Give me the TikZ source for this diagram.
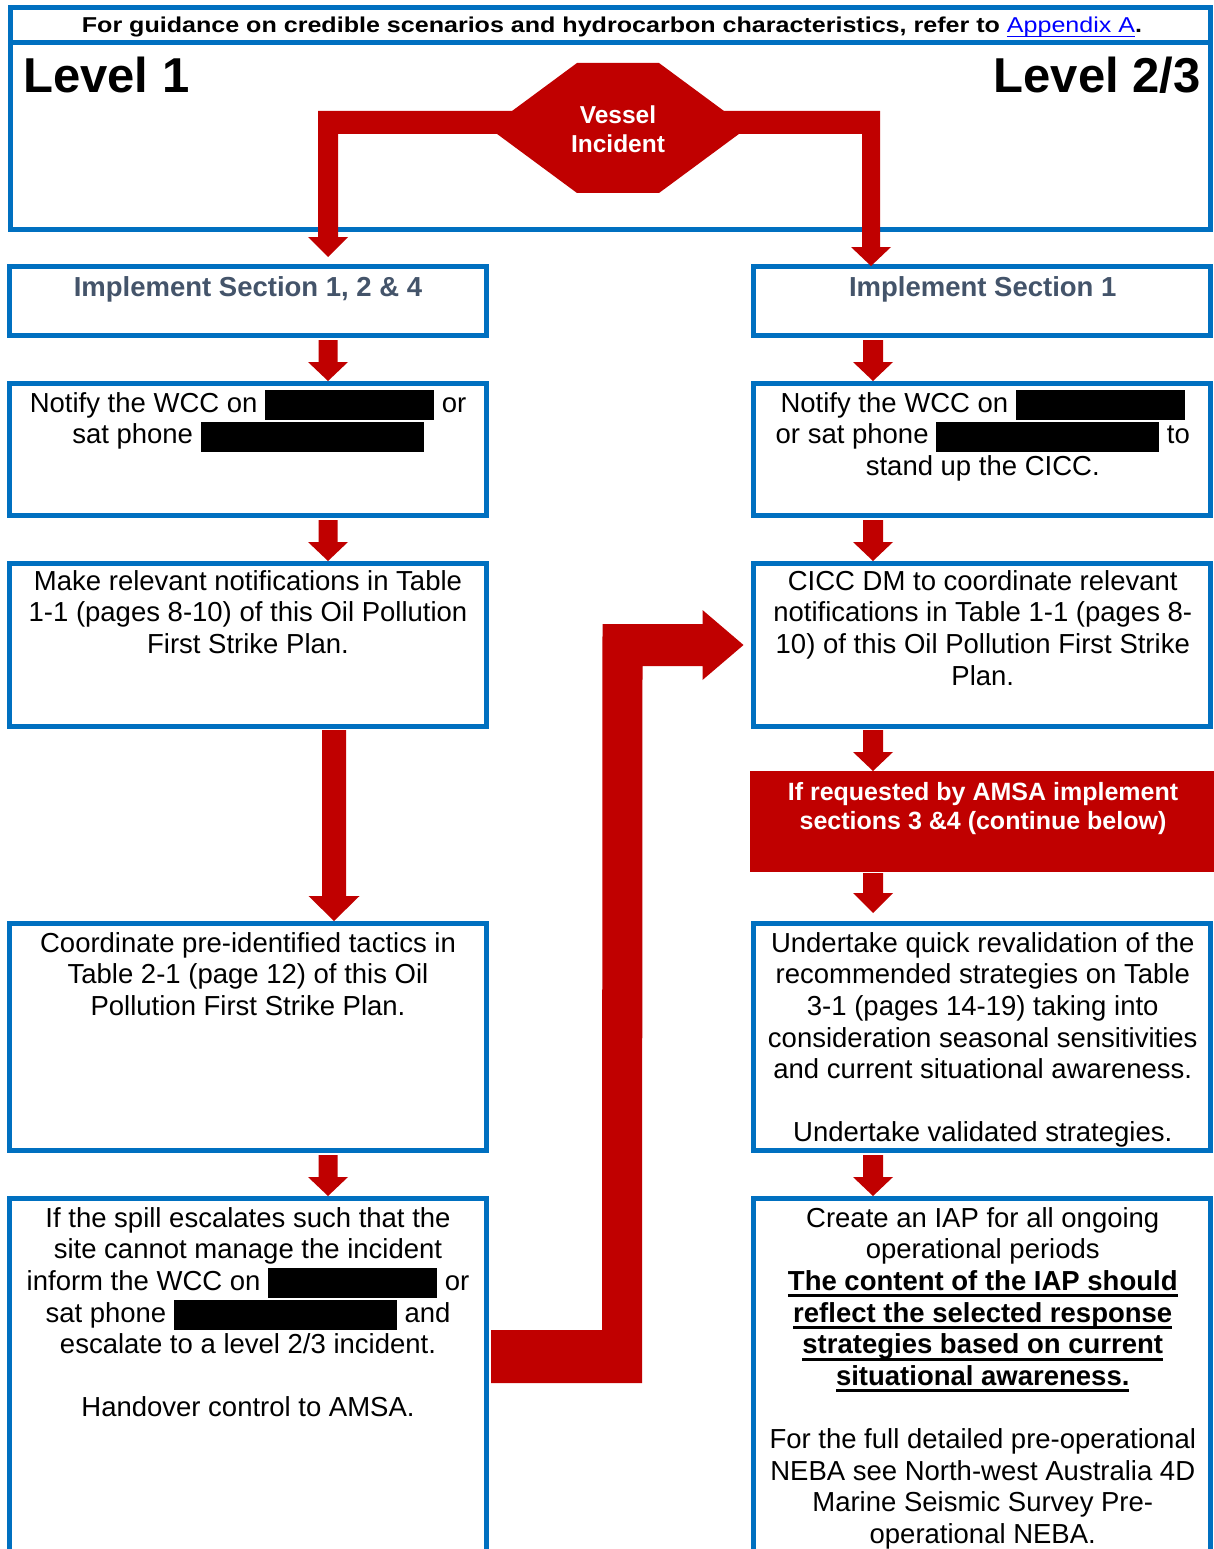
\documentclass[tikz,border=0pt]{standalone}
\usepackage{fontspec}
\usepackage{graphicx}
\setmainfont{Liberation Sans}
\usetikzlibrary{calc}
\definecolor{frameblue}{HTML}{0070C0}
\definecolor{arrowred}{HTML}{C00000}
\definecolor{headgray}{HTML}{44546A}
\definecolor{linkblue}{HTML}{0000FF}
\newcommand{\bodyfont}{\fontsize{27.5}{31.6}\selectfont}
\newcommand{\tstrut}{\rule{0pt}{24pt}}
\newcommand{\redact}[1]{\rule[-8pt]{#1pt}{30pt}}
\newbox\myulbox
\newcommand{\ulbold}[1]{\setbox\myulbox\hbox{#1}\rlap{\rule[-7pt]{\wd\myulbox}{3pt}}\box\myulbox}
\newcommand{\ullink}[1]{\setbox\myulbox\hbox{#1}\rlap{\rule[-4.5pt]{\wd\myulbox}{1.5pt}}\box\myulbox}
% vertical block arrow: start, tip, shaft half width, head half width, head length
\newcommand{\varrow}[5]{\fill[arrowred] let \p1=(#1), \p2=(#2) in
  (\x2-#3pt,\y1) -- (\x2-#3pt,\y2+#5pt) -- (\x2-#4pt,\y2+#5pt) -- (\x2,\y2)
  -- (\x2+#4pt,\y2+#5pt) -- (\x2+#3pt,\y2+#5pt) -- (\x2+#3pt,\y1) -- cycle;}
\begin{document}
\begin{tikzpicture}[x=1pt,y=-1pt,
  frame/.style={draw=frameblue, line width=5pt, inner sep=0pt},
  lbox/.style={frame, minimum width=477pt},
  rbox/.style={frame, minimum width=457.5pt},
  txt/.style={anchor=north, inner sep=0pt, align=center, font=\bodyfont},
  hdr/.style={txt, font=\bodyfont\bfseries, text=headgray}]
\useasboundingbox (0,0) rectangle (1214,1549);
\clip (0,0) rectangle (1214,1549);
\fill[white] (0,0) rectangle (1214,1549);

% top frame
\node[frame, minimum width=1200pt, minimum height=35pt] (bar) at (610.5,25) {};
\node[frame, minimum width=1200pt, minimum height=187pt] (lvl) at (610.5,136) {};
\node[anchor=base, inner sep=0pt, font=\fontsize{21.5}{25}\selectfont\bfseries] (bart) at (612,33)
  {\scalebox{1.166}[1]{For guidance on credible scenarios and hydrocarbon characteristics, refer to \textcolor{linkblue}{\mdseries\ullink{Appendix A}}.}};
\node[anchor=base west, inner sep=0pt, font=\fontsize{49}{55}\selectfont\bfseries] (lv1) at (23,93) {Level 1};
\node[anchor=base east, inner sep=0pt, font=\fontsize{49}{55}\selectfont\bfseries] (lv23) at (1201,93) {Level 2/3};

% left column boxes
\node[lbox, minimum height=69pt] (b1) at (248,301) {};
\node[lbox, minimum height=132pt] (b2) at (248,449.5) {};
\node[lbox, minimum height=163pt] (b3) at (248,645) {};
\node[lbox, minimum height=227pt] (b4) at (248,1037) {};
\node[lbox, minimum height=366.5pt] (b5) at (248,1381.75) {};
% right column boxes
\node[rbox, minimum height=69pt] (r1) at (981.75,301) {};
\node[rbox, minimum height=132pt] (r2) at (981.75,449.5) {};
\node[rbox, minimum height=163pt] (r3) at (981.75,645) {};
\node[fill=arrowred, inner sep=0pt, outer sep=0pt, minimum width=464pt, minimum height=101pt] (red) at (982,821.5) {};
\node[rbox, minimum height=227pt] (r4) at (981.75,1037) {};
\node[rbox, minimum height=366.5pt] (r5) at (981.75,1381.75) {};

% texts
\node[hdr] (b1t) at ($(b1.north)+(0,8)$) {\tstrut Implement Section 1, 2 \& 4};
\node[txt] (b2t) at ($(b2.north)+(0,7)$) {\tstrut Notify the WCC on \redact{169} or\\sat phone \redact{223}};
\node[txt] (b3t) at ($(b3.north)+(0,5)$) {\tstrut Make relevant notifications in Table\\1-1 (pages 8-10) of this Oil Pollution\\First Strike Plan.};
\node[txt] (b4t) at ($(b4.north)+(0,7)$) {\tstrut Coordinate pre-identified tactics in\\Table 2-1 (page 12) of this Oil\\Pollution First Strike Plan.};
\node[txt] (b5t) at ($(b5.north)+(0,7)$) {\tstrut If the spill escalates such that the\\site cannot manage the incident\\inform the WCC on \redact{169} or\\sat phone \redact{223} and\\escalate to a level 2/3 incident.\\[31.6pt]Handover control to AMSA.};

\node[hdr] (r1t) at ($(r1.north)+(1,8)$) {\tstrut Implement Section 1};
\node[txt] (r2t) at ($(r2.north)+(1,7)$) {\tstrut Notify the WCC on \redact{169}\\or sat phone \redact{223} to\\stand up the CICC.};
\node[txt] (r3t) at ($(r3.north)+(1,5)$) {\tstrut CICC DM to coordinate relevant\\notifications in Table 1-1 (pages 8-\\10) of this Oil Pollution First Strike\\Plan.};
\node[txt, text=white, font=\fontsize{25}{29}\selectfont\bfseries] (redt) at ($(red.north)+(1,5)$) {\tstrut If requested by AMSA implement\\sections 3 \&4 (continue below)};
\node[txt] (r4t) at ($(r4.north)+(1,7)$) {\tstrut Undertake quick revalidation of the\\recommended strategies on Table\\3-1 (pages 14-19) taking into\\consideration seasonal sensitivities\\and current situational awareness.\\[31.6pt]Undertake validated strategies.};
\node[txt] (r5t) at ($(r5.north)+(1,7)$) {\tstrut Create an IAP for all ongoing\\operational periods\\\ulbold{\bfseries The content of the IAP should}\\\ulbold{\bfseries reflect the selected response}\\\ulbold{\bfseries strategies based on current}\\\ulbold{\bfseries situational awareness.}\\[31.6pt]For the full detailed pre-operational\\NEBA see North-west Australia 4D\\Marine Seismic Survey Pre-\\operational NEBA.};

% vessel incident
\coordinate (axL) at (328,0);
\coordinate (axL2) at (334,0);
\coordinate (axR) at (873,0);
\coordinate (axT) at (871,0);
\fill[arrowred] (577,63) -- (659,63) -- (747,128) -- (659,193) -- (577,193) -- (489,128) -- cycle;
\node[anchor=north, inner sep=0pt, align=center, text=white, font=\fontsize{24.5}{29}\selectfont\bfseries] (vessel) at (618,99) {\tstrut Vessel\\Incident};
\fill[arrowred] let \p1=($(b1.north -| axL)+(0,-7)$) in
  (540,111) -- (318,111) -- (\x1-10pt,\y1+20pt) -- (\x1-20pt,\y1+20pt) -- (\p1)
  -- (\x1+20pt,\y1+20pt) -- (\x1+10pt,\y1+20pt) -- (338,134) -- (540,134) -- cycle;
\fill[arrowred] let \p1=($(r1.north -| axT)+(0,2)$) in
  (700,111) -- (880,111) -- (\x1+9pt,\y1+19pt) -- (\x1+20pt,\y1+19pt) -- (\p1)
  -- (\x1-20pt,\y1+19pt) -- (\x1-9pt,\y1+19pt) -- (862,134) -- (700,134) -- cycle;

% column arrows
\varrow{$(b1.south -| axL)+(0,2)$}{b2.north -| axL}{9.5}{20}{19}
\varrow{$(b2.south -| axL)+(0,2)$}{b3.north -| axL}{9.5}{20}{19}
\varrow{$(b3.south -| axL2)+(0,1)$}{b4.north -| axL2}{12}{25.5}{25}
\varrow{$(b4.south -| axL)+(0,2)$}{b5.north -| axL}{9.5}{20}{19}
\varrow{$(r1.south -| axR)+(0,2)$}{r2.north -| axR}{10}{20}{19}
\varrow{$(r2.south -| axR)+(0,2)$}{r3.north -| axR}{10}{20}{19}
\varrow{$(r3.south -| axR)+(0,1)$}{red.north -| axR}{10}{20}{19}
\varrow{$(red.south -| axR)+(0,1)$}{$(r4.north -| axR)+(0,-8)$}{10}{20}{20}
\varrow{$(r4.south -| axR)+(0,2)$}{r5.north -| axR}{10}{20}{19}

% escalation elbow arrow
\coordinate (es) at ($(b5.east |- 0,1356.5)+(2,0)$);
\coordinate (et) at ($(r3.west)+(-7,0)$);
\fill[arrowred] ($(es)+(0,26.5)$) -- (642,1383) -- ($(et)+(-101,21)$) -- ($(et)+(-41,21)$)
  -- ($(et)+(-41,35)$) -- (et) -- ($(et)+(-41,-35)$) -- ($(et)+(-41,-21)$)
  -- ($(et)+(-141,-21)$) -- (602,1330) -- ($(es)+(0,-26.5)$) -- cycle;
\end{tikzpicture}
\end{document}
